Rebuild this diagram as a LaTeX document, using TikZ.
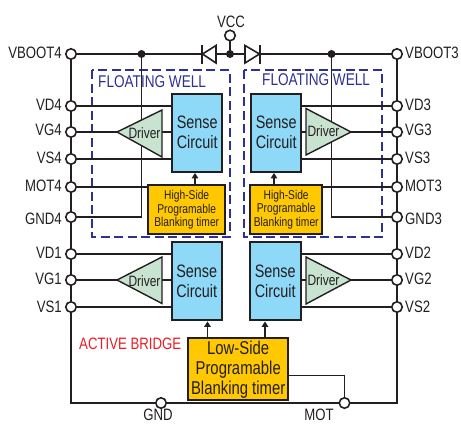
\documentclass[tikz,border=0pt]{standalone}
\usepackage{fontspec}
\setmainfont[FakeStretch=0.8]{Liberation Sans}
\usetikzlibrary{arrows.meta,calc}
\definecolor{sensec}{HTML}{8ED8F8}
\definecolor{drvc}{HTML}{C8E3D0}
\definecolor{blankc}{HTML}{FFC800}
\definecolor{wellc}{HTML}{2E3192}
\definecolor{redc}{HTML}{ED1C24}
\definecolor{ink}{HTML}{231F20}
\tikzset{
  wire/.style={draw=ink,line width=1.6pt},
  term/.style={circle,draw=ink,line width=1.6pt,fill=white,minimum size=10.5pt,inner sep=0pt},
  dotn/.style={circle,fill=ink,minimum size=8pt,inner sep=0pt},
  lbl/.style={text=ink,font=\fontsize{16.5}{18}\selectfont,inner sep=0pt},
  llbl/.style={lbl,anchor=east},
  rlbl/.style={lbl,anchor=west},
  box/.style={rectangle,draw=ink,line width=2.4pt,inner sep=0pt,anchor=north west,align=center,text=ink},
  sense/.style={box,fill=sensec,minimum width=50pt,minimum height=78pt,font=\fontsize{18}{20}\selectfont},
  blank/.style={box,fill=blankc,font=\fontsize{12.8}{13.5}\selectfont},
  drv/.style={draw=ink,line width=1.4pt,fill=drvc,line join=miter},
  drvt/.style={text=ink,font=\fontsize{15}{16}\selectfont,inner sep=0pt},
  well/.style={draw=wellc,line width=2pt,dash pattern=on 9pt off 4.5pt},
  welltxt/.style={text=wellc,font=\fontsize{17}{18}\selectfont,inner sep=0pt,anchor=west},
  arr/.style={wire,-{Triangle[length=5.5pt,width=6.5pt]}},
}
\begin{document}
\begin{tikzpicture}[x=1pt,y=-1pt]
\useasboundingbox (0,0) rectangle (461,424);
% floating wells
\draw[well] (92,70) rectangle (229.5,237);
\draw[well] (244,70) rectangle (382,237);
% terminals
\foreach \n/\y in {VBOOTfour/54,VDfour/106,VGfour/132,VSfour/159,MOTfour/187,GNDfour/217,VDone/254,VGone/280,VSone/307}
  \coordinate (\n) at (71,\y);
\foreach \n/\y in {VBOOTthree/54,VDthree/106,VGthree/132,VSthree/159,MOTthree/187,GNDthree/217,VDtwo/254,VGtwo/280,VStwo/307}
  \coordinate (\n) at (397,\y);
\coordinate (GNDb) at (161,403);
\coordinate (MOTb) at (344.5,403);
\coordinate (VCCt) at (230,35.5);
\coordinate (VCCd) at (230,54);
\coordinate (jL) at (141.5,54);
\coordinate (jR) at (331.5,54);
\coordinate (cornerL) at (71,403);
\coordinate (cornerR) at (397,403);
% wires under the boxes
\draw[wire] (VBOOTfour) -- (cornerL) -- (GNDb) -- (MOTb) -- (cornerR) -- (VBOOTthree);
\draw[wire] (VBOOTfour) -- (jL) -- (VCCd) -- (jR) -- (VBOOTthree);
\draw[wire] (VCCt) -- (VCCd);
\draw[wire] (jL) |- (GNDfour);
\draw[wire] (jR) |- (GNDthree);
% boxes
\node[sense] (S4) at (171,92.5) {Sense\\Circuit};
\node[sense] (S3) at (250,92.5) {Sense\\Circuit};
\node[sense] (S1) at (170.5,241) {Sense\\Circuit};
\node[sense,minimum width=51pt] (S2) at (248.5,241) {Sense\\Circuit};
\node[blank,minimum width=77pt,minimum height=49pt] (B4) at (147,184) {High-Side\\Programable\\Blanking timer};
\node[blank,minimum width=72pt,minimum height=48.5pt] (B3) at (249,184) {High-Side\\Programable\\Blanking timer};
\node[box,fill=blankc,minimum width=100pt,minimum height=62pt,font=\fontsize{18.6}{20}\selectfont] (LS) at (187,337) {Low-Side\\Programable\\Blanking timer};
% wires to boxes
\foreach \t/\s in {VDfour/S4,VSfour/S4,VGfour/S4,VDone/S1,VSone/S1,VGone/S1}
  \draw[wire] (\t) -- (\t -| \s.west);
\foreach \t/\s in {VDthree/S3,VSthree/S3,VGthree/S3,VDtwo/S2,VStwo/S2,VGtwo/S2}
  \draw[wire] (\t) -- (\t -| \s.east);
\draw[wire] (MOTfour) -- (MOTfour -| B4.west);
\draw[wire] (MOTthree) -- (MOTthree -| B3.east);
\draw[wire] (MOTb) |- ($(LS.north east)!0.6!(LS.south east)$);
% arrows
\draw[arr] (B4.north -| 195,0) -- (S4.south -| 195,0);
\draw[arr] (B3.north -| 274,0) -- (S3.south -| 274,0);
\draw[arr] (LS.north -| 207.5,0) -- (S1.south -| 207.5,0);
\draw[arr] (LS.north -| 265,0) -- (S2.south -| 265,0);
% drivers
\draw[drv] (117,132) -- (162,110) -- (162,157) -- cycle;
\node[drvt] (D4) at (144.5,133.5) {Driver};
\draw[drv] (351,132) -- (306,108.5) -- (306,155) -- cycle;
\node[drvt] (D3) at (323.5,131) {Driver};
\draw[drv] (117,280) -- (162,257) -- (162,303.5) -- cycle;
\node[drvt] (D1) at (144.5,281) {Driver};
\draw[drv] (351,280) -- (306,257) -- (306,304) -- cycle;
\node[drvt] (D2) at (323.5,280) {Driver};
% diodes
\draw[wire,fill=white] (216,45.5) -- (216,63) -- (202.5,54) -- cycle;
\draw[ink,line width=2.6pt] (202,45) -- (202,64);
\draw[wire,fill=white] (245,45.5) -- (245,63) -- (259.5,54) -- cycle;
\draw[ink,line width=2.6pt] (260,45) -- (260,64);
% dots
\node[dotn] (dL) at (jL) {};
\node[dotn] (dR) at (jR) {};
\node[dotn] (dC) at (VCCd) {};
% terminal circles
\foreach \n in {VBOOTfour,VDfour,VGfour,VSfour,MOTfour,GNDfour,VDone,VGone,VSone,VBOOTthree,VDthree,VGthree,VSthree,MOTthree,GNDthree,VDtwo,VGtwo,VStwo,GNDb,MOTb,VCCt}
  \node[term] (c\n) at (\n) {};
% labels
\foreach \n/\t/\y in {a/VBOOT4/53,b/VD4/105,c/VG4/130,d/VS4/158,e/MOT4/186,f/GND4/219,g/VD1/253,h/VG1/279,i/VS1/307}
  \node[llbl] (l\n) at (62,\y) {\t};
\foreach \n/\t/\y in {a/VBOOT3/53,b/VD3/105,c/VG3/130,d/VS3/158,e/MOT3/186,f/GND3/219,g/VD2/253,h/VG2/279,i/VS2/307}
  \node[rlbl] (r\n) at (405,\y) {\t};
\node[lbl] (lvcc) at (231,22) {VCC};
\node[lbl] (lgnd) at (158,414.5) {GND};
\node[lbl] (lmot) at (319,414.5) {MOT};
\node[welltxt] (w4) at (98,82) {FLOATING WELL};
\node[welltxt] (w3) at (262,80) {FLOATING WELL};
\node[lbl,text=redc,anchor=west] (ab) at (79,344) {ACTIVE BRIDGE};
\end{tikzpicture}
\end{document}
